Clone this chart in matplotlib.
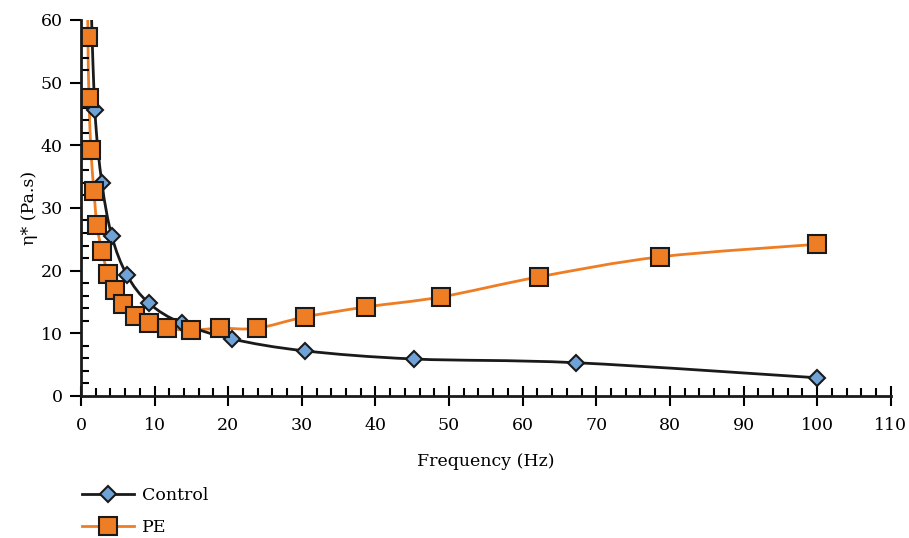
import numpy as np
import matplotlib.pyplot as plt
from matplotlib.path import Path
from matplotlib.patches import PathPatch
from matplotlib.ticker import MultipleLocator

plt.rcParams['font.family'] = ['DejaVu Serif']

# Datos (el primer punto de cada serie queda fuera del eje)
freq_control = [1.3, 1.9, 2.85, 4.2, 6.25, 9.24, 13.7, 20.5, 30.4, 45.2, 67.3, 100.0]
eta_control = [66.0, 45.6, 34.0, 25.5, 19.3, 14.8, 11.6, 9.1, 7.2, 5.9, 5.3, 2.9]

freq_pe = [0.88, 0.95, 1.1, 1.36, 1.77, 2.17, 2.85, 3.67, 4.6, 5.7, 7.3, 9.24, 11.7,
           14.9, 18.9, 23.9, 30.4, 38.7, 48.9, 62.2, 78.7, 100.0]
eta_pe = [70.0, 57.3, 47.5, 39.2, 32.7, 27.3, 23.1, 19.5, 16.9, 14.7, 12.8, 11.6, 10.8,
          10.5, 10.8, 10.8, 12.6, 14.2, 15.8, 19.0, 22.2, 24.2]


def smooth_path(x, y):
    # curva suavizada tipo Excel (Bezier cubica)
    x = np.asarray(x, float)
    y = np.asarray(y, float)
    pts = np.column_stack([x, y])
    verts = [pts[0]]
    codes = [Path.MOVETO]
    n = len(pts)
    for i in range(n - 1):
        p0 = pts[i - 1] if i > 0 else pts[i]
        p1 = pts[i]
        p2 = pts[i + 1]
        p3 = pts[i + 2] if i + 2 < n else pts[i + 1]
        c1 = p1 + (p2 - p0) / 6.0
        c2 = p2 - (p3 - p1) / 6.0
        verts += [c1, c2, p2]
        codes += [Path.CURVE4] * 3
    return Path(verts, codes)


fig = plt.figure(figsize=(9.09, 5.38), dpi=100)
ax = fig.add_axes([0.089, 0.264, 0.891, 0.699])

black = '#1a1a1a'
orange = '#ee7d23'
blue = '#6fa3d8'

ax.add_patch(PathPatch(smooth_path(freq_pe, eta_pe), fill=False, edgecolor=orange, lw=2))
ax.add_patch(PathPatch(smooth_path(freq_control, eta_control), fill=False, edgecolor=black, lw=2))

ax.plot(freq_control, eta_control, ls='none', marker='D', ms=8.5, mfc=blue, mec=black, mew=1.5)
ax.plot(freq_pe, eta_pe, ls='none', marker='s', ms=12.5, mfc=orange, mec=black, mew=1.5)

# entradas de leyenda
ax.plot([], [], color=black, lw=2, marker='D', ms=8.5, mfc=blue, mec=black, mew=1.5, label='Control')
ax.plot([], [], color=orange, lw=2, marker='s', ms=12.5, mfc=orange, mec=black, mew=1.5, label='PE')

ax.set_xlim(0, 110)
ax.set_ylim(0, 60)
ax.xaxis.set_major_locator(MultipleLocator(10))
ax.xaxis.set_minor_locator(MultipleLocator(2))
ax.yaxis.set_major_locator(MultipleLocator(10))
ax.yaxis.set_minor_locator(MultipleLocator(2))

for s in ['top', 'right']:
    ax.spines[s].set_visible(False)
for s in ['left', 'bottom']:
    ax.spines[s].set_linewidth(2)
    ax.spines[s].set_color(black)

ax.tick_params(axis='x', which='major', direction='inout', length=14, width=1.5, labelsize=12.5, pad=8)
ax.tick_params(axis='x', which='minor', direction='in', length=6, width=1.5)
ax.tick_params(axis='y', which='major', direction='out', length=8, width=1.5, labelsize=12.5, pad=5)
ax.tick_params(axis='y', which='minor', direction='in', length=6, width=1.5)

ax.set_xlabel('Frequency (Hz)', fontsize=12.5, labelpad=14)
ax.set_ylabel('η* (Pa.s)', fontsize=12.5, labelpad=2)

ax.legend(loc='upper left', bbox_to_anchor=(-0.014, -0.211), frameon=False, fontsize=12.5,
          handlelength=3, labelspacing=0.85, handletextpad=0.5, borderaxespad=0.3)

fig.savefig('out.png', dpi=100)
